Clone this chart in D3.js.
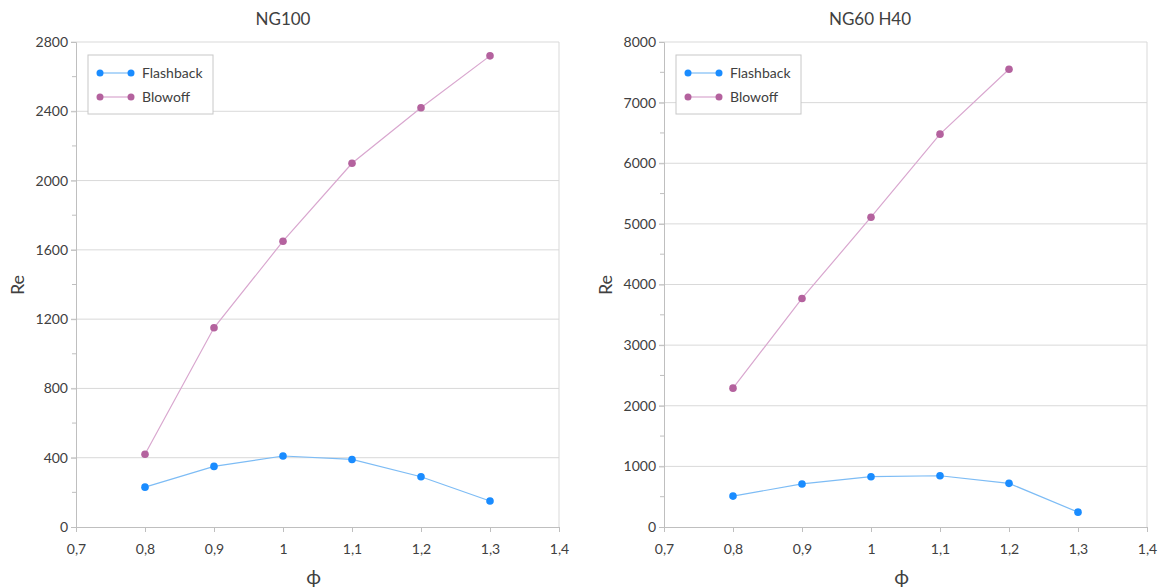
<!DOCTYPE html>
<html>
<head>
<meta charset="utf-8">
<script src="https://cdn.jsdelivr.net/npm/d3@7"></script>
<style>
  body { margin: 0; background: #fff; }
  text { font-family: Lato, "Open Sans", sans-serif; fill: #404040; }
</style>
</head>
<body>
<svg id="chart" width="1160" height="587"></svg>
<script>
// x values (equivalence ratio)
var phi = [0.8, 0.9, 1.0, 1.1, 1.2, 1.3];

// NG100
var ng100Flashback = [230, 350, 410, 390, 290, 150];
var ng100Blowoff = [420, 1150, 1650, 2100, 2420, 2720];

// NG60 H40 (no blowoff point at 1.3)
var h40Flashback = [510, 710, 830, 845, 720, 245];
var h40Blowoff = [2290, 3770, 5110, 6480, 7550];

var xTicks = [0.7, 0.8, 0.9, 1.0, 1.1, 1.2, 1.3, 1.4];
var ng100Ticks = [0, 400, 800, 1200, 1600, 2000, 2400, 2800];
var h40Ticks = [0, 1000, 2000, 3000, 4000, 5000, 6000, 7000, 8000];

var colors = {
  Flashback: { dot: "#1a8cff", line: "#7dbcf5" },
  Blowoff: { dot: "#b4629e", line: "#d9a7cf" }
};

var svg = d3.select("#chart");
var fmt = function(d) { return String(d).replace(".", ","); };

function drawPanel(opt) {
  var x = d3.scaleLinear().domain([0.7, 1.4]).range([opt.left, opt.left + 483]);
  var y = d3.scaleLinear().domain([0, opt.yMax]).range([527, 42]);
  var g = svg.append("g");

  // gridlines
  g.selectAll(".grid").data(opt.yTicks.slice(1)).enter().append("line")
    .attr("x1", opt.left - 5).attr("x2", x(1.4))
    .attr("y1", function(d) { return y(d); }).attr("y2", function(d) { return y(d); })
    .attr("stroke", "#d9d9d9").attr("stroke-width", 1);

  // minor y ticks
  var minor = opt.yTicks.slice(1).map(function(d) { return d - opt.yStep / 2; });
  g.selectAll(".minor").data(minor).enter().append("line")
    .attr("x1", opt.left - 4).attr("x2", opt.left)
    .attr("y1", function(d) { return y(d); }).attr("y2", function(d) { return y(d); })
    .attr("stroke", "#bfbfbf");

  // right border
  g.append("line").attr("x1", x(1.4)).attr("x2", x(1.4)).attr("y1", y(opt.yMax)).attr("y2", y(0))
    .attr("stroke", "#d9d9d9");

  // y axis
  var yAxis = g.append("g").attr("transform", "translate(" + opt.left + ",0)")
    .call(d3.axisLeft(y).tickValues(opt.yTicks).tickSize(5).tickPadding(3).tickFormat(d3.format("d")));
  yAxis.select(".domain").attr("stroke", "#bfbfbf");
  yAxis.selectAll(".tick line").attr("stroke", "#bfbfbf");
  yAxis.selectAll("text").style("font-size", "14px").attr("fill", "#404040");

  // x axis
  var xAxis = g.append("g").attr("transform", "translate(0," + y(0) + ")")
    .call(d3.axisBottom(x).tickValues(xTicks).tickSize(5).tickPadding(12).tickFormat(fmt));
  xAxis.select(".domain").attr("stroke", "#bfbfbf");
  xAxis.selectAll(".tick line").attr("stroke", "#bfbfbf");
  xAxis.selectAll("text").style("font-size", "14px").attr("fill", "#404040");

  // series
  opt.series.forEach(function(s) {
    var pts = s.values.map(function(v, i) { return [phi[i], v]; });
    g.append("path").datum(pts)
      .attr("fill", "none").attr("stroke", colors[s.name].line).attr("stroke-width", 1.2)
      .attr("d", d3.line().x(function(d) { return x(d[0]); }).y(function(d) { return y(d[1]); }));
    g.selectAll(".pt-" + s.name).data(pts).enter().append("circle")
      .attr("cx", function(d) { return x(d[0]); }).attr("cy", function(d) { return y(d[1]); })
      .attr("r", 3.8).attr("fill", colors[s.name].dot);
  });

  // title and axis labels
  g.append("text").attr("x", opt.titleX).attr("y", 25).attr("text-anchor", "middle")
    .style("font-size", "17px").attr("fill", "#262626").text(opt.title);
  g.append("text").attr("transform", "translate(" + (opt.left - 52) + ",285) rotate(-90)")
    .attr("text-anchor", "middle").style("font-size", "18px").attr("fill", "#262626").text("Re");
  g.append("text").attr("x", x(1.05) - 4).attr("y", 584).attr("text-anchor", "middle")
    .style("font-size", "20px").attr("fill", "#262626").text("ϕ");

  // legend
  var lx = opt.left + 12;
  var lg = g.append("g").attr("transform", "translate(" + lx + ",55)");
  lg.append("rect").attr("width", 125).attr("height", 59)
    .attr("fill", "#fff").attr("stroke", "#c8c8c8");
  ["Flashback", "Blowoff"].forEach(function(name, i) {
    var yy = 18 + i * 24;
    lg.append("line").attr("x1", 12).attr("x2", 43).attr("y1", yy).attr("y2", yy)
      .attr("stroke", colors[name].line).attr("stroke-width", 1.2);
    lg.selectAll(".ld" + i).data([12, 43]).enter().append("circle")
      .attr("cx", function(d) { return d; }).attr("cy", yy).attr("r", 3.5).attr("fill", colors[name].dot);
    lg.append("text").attr("x", 54).attr("y", yy + 5).style("font-size", "14px")
      .attr("fill", "#404040").text(name);
  });
}

drawPanel({
  left: 76, yMax: 2800, yStep: 400, yTicks: ng100Ticks, title: "NG100", titleX: 283,
  series: [{ name: "Flashback", values: ng100Flashback }, { name: "Blowoff", values: ng100Blowoff }]
});
drawPanel({
  left: 664, yMax: 8000, yStep: 1000, yTicks: h40Ticks, title: "NG60 H40", titleX: 870,
  series: [{ name: "Flashback", values: h40Flashback }, { name: "Blowoff", values: h40Blowoff }]
});
</script>
</body>
</html>
